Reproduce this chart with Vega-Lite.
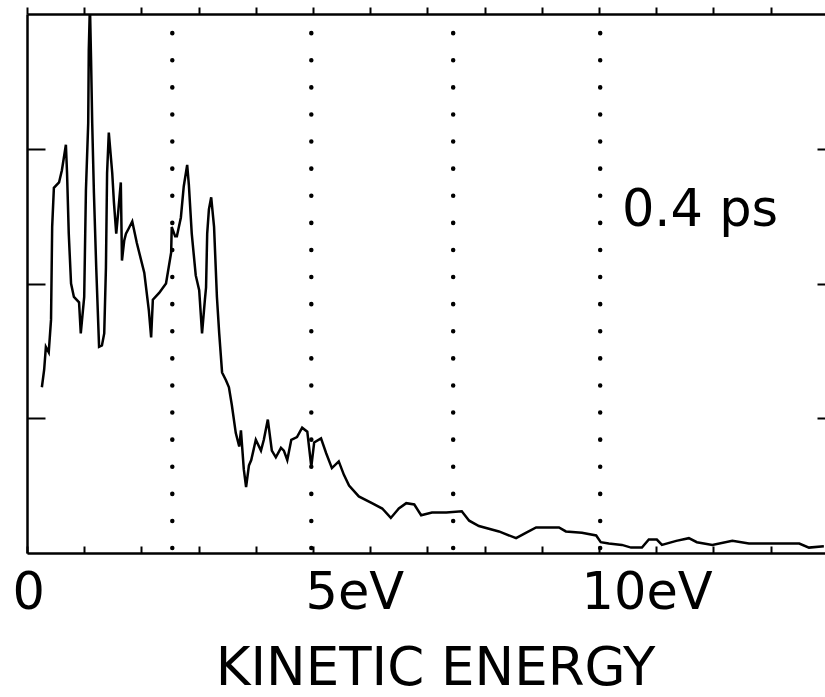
{
  "$schema": "https://vega.github.io/schema/vega-lite/v6.json",
  "autosize": {"type": "none"},
  "padding": {"left": 27, "top": 14, "right": 0, "bottom": 144},
  "width": 798,
  "height": 539,
  "background": "white",
  "config": {
    "view": {"stroke": null},
    "axis": {
      "grid": false,
      "domainColor": "black",
      "tickColor": "black",
      "labelColor": "black",
      "titleColor": "black",
      "domainWidth": 2.5,
      "tickWidth": 2,
      "labelFont": "DejaVu Sans",
      "titleFont": "DejaVu Sans"
    }
  },
  "datasets": {
    "spectrum": [
      {"e": 0.26, "i": 1.23}, {"e": 0.30, "i": 1.36}, {"e": 0.33, "i": 1.53}, {"e": 0.38, "i": 1.49},
      {"e": 0.42, "i": 1.73}, {"e": 0.44, "i": 2.42}, {"e": 0.47, "i": 2.71}, {"e": 0.56, "i": 2.75},
      {"e": 0.61, "i": 2.84}, {"e": 0.68, "i": 3.03}, {"e": 0.70, "i": 2.82}, {"e": 0.73, "i": 2.37},
      {"e": 0.77, "i": 2.00}, {"e": 0.82, "i": 1.90}, {"e": 0.91, "i": 1.86}, {"e": 0.94, "i": 1.63},
      {"e": 1.00, "i": 1.90}, {"e": 1.03, "i": 2.69}, {"e": 1.07, "i": 3.19}, {"e": 1.08, "i": 3.73},
      {"e": 1.10, "i": 4.07}, {"e": 1.12, "i": 3.66}, {"e": 1.14, "i": 3.19}, {"e": 1.17, "i": 2.67},
      {"e": 1.21, "i": 2.12}, {"e": 1.26, "i": 1.53}, {"e": 1.31, "i": 1.54}, {"e": 1.35, "i": 1.63},
      {"e": 1.38, "i": 2.12}, {"e": 1.40, "i": 2.82}, {"e": 1.43, "i": 3.12}, {"e": 1.47, "i": 2.92},
      {"e": 1.49, "i": 2.82}, {"e": 1.52, "i": 2.60}, {"e": 1.56, "i": 2.37}, {"e": 1.59, "i": 2.51},
      {"e": 1.64, "i": 2.75}, {"e": 1.66, "i": 2.17}, {"e": 1.70, "i": 2.32}, {"e": 1.73, "i": 2.37},
      {"e": 1.78, "i": 2.41}, {"e": 1.84, "i": 2.46}, {"e": 1.92, "i": 2.30}, {"e": 2.05, "i": 2.08},
      {"e": 2.13, "i": 1.80}, {"e": 2.17, "i": 1.60}, {"e": 2.20, "i": 1.88}, {"e": 2.31, "i": 1.93},
      {"e": 2.43, "i": 2.00}, {"e": 2.52, "i": 2.23}, {"e": 2.53, "i": 2.42}, {"e": 2.59, "i": 2.35},
      {"e": 2.62, "i": 2.35}, {"e": 2.69, "i": 2.49}, {"e": 2.74, "i": 2.72}, {"e": 2.80, "i": 2.88},
      {"e": 2.83, "i": 2.73}, {"e": 2.88, "i": 2.37}, {"e": 2.95, "i": 2.06}, {"e": 3.01, "i": 1.95},
      {"e": 3.06, "i": 1.63}, {"e": 3.11, "i": 1.88}, {"e": 3.13, "i": 1.97}, {"e": 3.15, "i": 2.37},
      {"e": 3.18, "i": 2.55}, {"e": 3.22, "i": 2.64}, {"e": 3.27, "i": 2.42}, {"e": 3.32, "i": 1.90},
      {"e": 3.36, "i": 1.63}, {"e": 3.41, "i": 1.34}, {"e": 3.48, "i": 1.28}, {"e": 3.53, "i": 1.23},
      {"e": 3.58, "i": 1.10}, {"e": 3.65, "i": 0.89}, {"e": 3.71, "i": 0.79}, {"e": 3.74, "i": 0.91},
      {"e": 3.79, "i": 0.62}, {"e": 3.83, "i": 0.49}, {"e": 3.88, "i": 0.65}, {"e": 3.92, "i": 0.69},
      {"e": 4.00, "i": 0.84}, {"e": 4.09, "i": 0.76}, {"e": 4.14, "i": 0.84}, {"e": 4.21, "i": 0.99},
      {"e": 4.28, "i": 0.76}, {"e": 4.35, "i": 0.71}, {"e": 4.44, "i": 0.78}, {"e": 4.49, "i": 0.76},
      {"e": 4.55, "i": 0.69}, {"e": 4.62, "i": 0.84}, {"e": 4.72, "i": 0.86}, {"e": 4.81, "i": 0.93},
      {"e": 4.90, "i": 0.90}, {"e": 4.97, "i": 0.64}, {"e": 5.02, "i": 0.82}, {"e": 5.14, "i": 0.85},
      {"e": 5.23, "i": 0.74}, {"e": 5.33, "i": 0.63}, {"e": 5.45, "i": 0.68}, {"e": 5.54, "i": 0.58},
      {"e": 5.63, "i": 0.50}, {"e": 5.80, "i": 0.42}, {"e": 6.03, "i": 0.37}, {"e": 6.21, "i": 0.33},
      {"e": 6.36, "i": 0.26}, {"e": 6.50, "i": 0.33}, {"e": 6.63, "i": 0.37}, {"e": 6.77, "i": 0.36},
      {"e": 6.89, "i": 0.28}, {"e": 7.08, "i": 0.30}, {"e": 7.33, "i": 0.30}, {"e": 7.60, "i": 0.31},
      {"e": 7.73, "i": 0.24}, {"e": 7.90, "i": 0.20}, {"e": 8.25, "i": 0.16}, {"e": 8.55, "i": 0.11},
      {"e": 8.72, "i": 0.15}, {"e": 8.90, "i": 0.19}, {"e": 9.30, "i": 0.19}, {"e": 9.42, "i": 0.16},
      {"e": 9.70, "i": 0.15}, {"e": 9.95, "i": 0.13}, {"e": 10.03, "i": 0.08}, {"e": 10.17, "i": 0.07},
      {"e": 10.40, "i": 0.06}, {"e": 10.56, "i": 0.04}, {"e": 10.75, "i": 0.04}, {"e": 10.87, "i": 0.10},
      {"e": 11.01, "i": 0.10}, {"e": 11.10, "i": 0.06}, {"e": 11.35, "i": 0.09}, {"e": 11.57, "i": 0.11},
      {"e": 11.71, "i": 0.08}, {"e": 11.98, "i": 0.06}, {"e": 12.33, "i": 0.09}, {"e": 12.62, "i": 0.07},
      {"e": 12.92, "i": 0.07}, {"e": 13.20, "i": 0.07}, {"e": 13.50, "i": 0.07}, {"e": 13.67, "i": 0.04},
      {"e": 13.93, "i": 0.05}
    ],
    "markers": [
      {"e": 2.54}, {"e": 4.97}, {"e": 7.45}, {"e": 10.02}
    ]
  },
  "resolve": {"axis": {"x": "independent", "y": "independent"}},
  "layer": [
    {
      "data": {"name": "spectrum"},
      "mark": {"type": "line", "color": "black", "strokeWidth": 2.5, "clip": true, "interpolate": "linear"},
      "encoding": {
        "x": {
          "field": "e",
          "type": "quantitative",
          "scale": {"domain": [0, 13.95], "nice": false, "zero": false},
          "axis": {
            "orient": "bottom",
            "values": [0, 1, 2, 3, 4, 5, 6, 7, 8, 9, 10, 11, 12, 13],
            "tickSize": -7,
            "labelExpr": "datum.value === 0 ? '0' : datum.value === 5 ? '5eV' : datum.value === 10 ? '10eV' : ''",
            "labelFontSize": 51,
            "labelAlign": "left",
            "labelBaseline": "alphabetic",
            "labelPadding": 62,
            "labelOffset": {
              "condition": [
                {"test": "datum.value === 0", "value": -15},
                {"test": "datum.value === 10", "value": -18}
              ],
              "value": -8
            },
            "labelOverlap": false,
            "labelFlush": false,
            "title": "KINETIC ENERGY",
            "titleFontSize": 53,
            "titleFontWeight": "normal",
            "titleBaseline": "alphabetic",
            "titleAlign": "center",
            "titleAnchor": "middle",
            "titleX": 408,
            "titleY": 131
          }
        },
        "y": {
          "field": "i",
          "type": "quantitative",
          "scale": {"domain": [0, 4], "nice": false, "zero": true},
          "axis": {
            "orient": "left",
            "values": [1, 2, 3],
            "tickSize": -18,
            "labels": false,
            "title": null
          }
        }
      }
    },
    {
      "data": {"name": "markers"},
      "mark": {"type": "rule", "color": "black", "strokeWidth": 4.5, "strokeCap": "round", "strokeDash": [0.1, 27], "strokeDashOffset": 8},
      "encoding": {
        "x": {"field": "e", "type": "quantitative", "axis": null}
      }
    },
    {
      "data": {"values": [{"label": "0.4 ps"}]},
      "mark": {"type": "text", "font": "DejaVu Sans", "fontSize": 51, "color": "black", "align": "left", "baseline": "alphabetic"},
      "encoding": {
        "text": {"field": "label", "type": "nominal"},
        "x": {
          "datum": 10.4,
          "type": "quantitative",
          "axis": {
            "orient": "top",
            "values": [0, 1, 2, 3, 4, 5, 6, 7, 8, 9, 10, 11, 12, 13],
            "tickSize": 7,
            "labels": false,
            "title": null
          }
        },
        "y": {
          "datum": 2.43,
          "type": "quantitative",
          "axis": {
            "orient": "right",
            "values": [1, 2, 3],
            "tickSize": -8,
            "domain": false,
            "labels": false,
            "title": null
          }
        }
      }
    }
  ]
}
